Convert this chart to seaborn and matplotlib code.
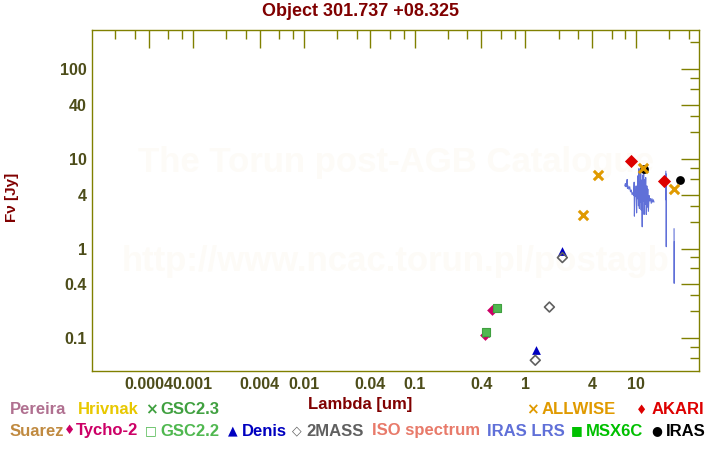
import numpy as np
import pandas as pd
import matplotlib
matplotlib.use('Agg')
import matplotlib.pyplot as plt
import seaborn as sns

# photometry (wavelength um, flux Jy)
tycho_wave = [0.433, 0.504]
tycho_flux = [0.110, 0.205]
gsc22_wave = [0.442, 0.552]
gsc22_flux = [0.1175, 0.220]
gsc23_wave = [0.442, 0.552]
gsc23_flux = [0.116, 0.218]
denis_wave = [1.25, 2.16]
denis_flux = [0.0748, 0.95]
mass2_wave = [1.23, 1.65, 2.16]
mass2_flux = [0.0569, 0.223, 0.794]
allwise_wave = [3.34, 4.56, 11.6, 22.1]
allwise_flux = [2.39, 6.68, 8.0, 4.67]
akari_wave = [9.0, 17.97]
akari_flux = [9.6, 5.63]
iras_wave = [11.8, 25.1]
iras_flux = [7.8, 5.77]

# IRAS LRS spectrum, three pieces
lrs_wave = [7.90, 8.00, 8.10, 8.20, 8.30, 8.35, 8.45, 8.60, 8.75, 8.90, 9.05, 9.20,
            9.35, 9.50, 9.60, 9.65, 9.75, 9.90, 10.00, 10.10, 10.20, 10.30, 10.40,
            10.50, 10.60, 10.70, 10.80, 10.90, 11.00, 11.10, 11.20, 11.35, 11.45,
            11.55, 11.70, 11.80, 11.95, 12.05, 12.20, 12.35, 12.50, 12.60, 12.75,
            12.90, 13.10, 13.30, 13.50, 13.70, 13.90, 14.10, 14.30, 14.50,
            18.55, 18.60, 18.65, 18.70, 18.75,
            22.00, 22.05, 22.10]
lrs_flux = [5.0, 5.3, 4.9, 5.2, 5.9, 4.7, 5.0, 4.6, 4.9, 4.3, 4.5, 4.0,
            4.2, 3.9, 5.5, 2.3, 4.4, 3.8, 5.0, 2.5, 4.6, 3.6, 6.5,
            3.0, 7.8, 2.8, 5.6, 3.3, 6.9, 2.7, 5.8, 1.75, 6.6,
            3.4, 7.0, 2.4, 5.9, 3.1, 6.2, 2.4, 5.0, 2.9, 4.6,
            2.6, 3.9, 3.4, 3.6, 3.2, 3.6, 3.3, 3.5, 3.3,
            7.3, 3.5, 6.8, 1.05, 3.6,
            1.67, 0.41, 1.2]
lrs_seg = [0] * 52 + [1] * 5 + [2] * 3

x_major = [0.0004, 0.001, 0.004, 0.01, 0.04, 0.1, 0.4, 1, 4, 10]
x_major_labels = ['0.0004', '0.001', '0.004', '0.01', '0.04', '0.1', '0.4', '1', '4', '10']
y_major = [0.1, 0.4, 1, 4, 10, 40, 100]
y_major_labels = ['0.1', '0.4', '1', '4', '10', '40', '100']

sns.set_style('white')
plt.rcParams['font.family'] = ['Liberation Sans', 'DejaVu Sans']
plt.rcParams['font.weight'] = 'bold'

olive = '#808000'
tick_col = '#4d4d1a'
dark_red = '#800000'

fig = plt.figure(figsize=(7.2, 4.5), dpi=100)
ax = fig.add_axes([0.1282, 0.1756, 0.8431, 0.7578])

# watermark
ax.text(0.5, 0.61, 'The Torun post-AGB Catalogue', transform=ax.transAxes, ha='center',
        va='center', fontsize=25, fontweight='bold', color='#fdfbf7', zorder=0)
ax.text(0.5, 0.32, 'http://www.ncac.torun.pl/postagb', transform=ax.transAxes, ha='center',
        va='center', fontsize=25, fontweight='bold', color='#fdfbf7', zorder=0)

lrs = pd.DataFrame({'wave': lrs_wave, 'flux': lrs_flux, 'seg': lrs_seg})
sns.lineplot(data=lrs, x='wave', y='flux', units='seg', estimator=None, sort=False,
             color='#6070d8', linewidth=0.8, ax=ax, zorder=2)

sns.scatterplot(x=tycho_wave, y=tycho_flux, marker='D', s=30, color='#cc0066', linewidth=0, ax=ax, zorder=3)
sns.scatterplot(x=gsc23_wave, y=gsc23_flux, marker='x', s=30, color='#40a040', linewidth=1.5, ax=ax, zorder=3)
sns.scatterplot(x=gsc22_wave, y=gsc22_flux, marker='s', s=40, color='#50b850', edgecolor='#40a040',
                linewidth=0.8, ax=ax, zorder=4)
sns.scatterplot(x=denis_wave, y=denis_flux, marker='^', s=40, color='#0000c0', linewidth=0, ax=ax, zorder=4)
sns.scatterplot(x=mass2_wave, y=mass2_flux, marker='D', s=25, facecolor='none', edgecolor='#606060',
                linewidth=1.2, ax=ax, zorder=4)
sns.scatterplot(x=akari_wave, y=akari_flux, marker='D', s=45, color='#dd0000', linewidth=0, ax=ax, zorder=4)
sns.scatterplot(x=iras_wave, y=iras_flux, marker='o', s=40, color='black', linewidth=0, ax=ax, zorder=4)
sns.scatterplot(x=allwise_wave, y=allwise_flux, marker='x', s=45, color='#e09a00', linewidth=2.2, ax=ax, zorder=5)

ax.set_xscale('log')
ax.set_yscale('log')

ax.set_xticks(x_major)
ax.set_xticklabels(x_major_labels)
ax.set_yticks(y_major)
ax.set_yticklabels(y_major_labels)
x_minor = [m * 10.0 ** d for d in range(-4, 2) for m in (2, 3, 6, 8)]
y_minor = [m * 10.0 ** d for d in range(-2, 3) for m in (2, 3, 6, 8)]
ax.set_xticks(x_minor, minor=True)
ax.set_yticks(y_minor, minor=True)
ax.set_xticklabels([], minor=True)
ax.set_yticklabels([], minor=True)
ax.set_xlim(1.236e-4, 37.2)
ax.set_ylim(0.0432, 274)

ax.tick_params(which='both', direction='in', top=True, right=True, color=olive, width=1)
ax.tick_params(which='major', length=13, labelsize=11.5, labelcolor=tick_col, pad=4)
ax.tick_params(which='minor', length=6.5)
for lab in ax.get_xticklabels() + ax.get_yticklabels():
    lab.set_fontweight('bold')
for sp in ax.spines.values():
    sp.set_color(olive)
    sp.set_linewidth(1)
ax.set_xlabel('')
ax.set_ylabel('')

fig.text(0.5, 1 - 12 / 450, 'Object 301.737 +08.325', ha='center', va='center',
         fontsize=13, fontweight='bold', color=dark_red)
fig.text(12 / 720, 1 - 197 / 450, 'F\u03bd [Jy]', rotation=90, ha='center', va='center',
         fontsize=11, fontweight='bold', color=dark_red)
fig.text(0.5, 1 - 405 / 450, 'Lambda [um]', ha='center', va='center',
         fontsize=12, fontweight='bold', color=dark_red)

# legend rows: (symbol, label, colour, symbol size, x of symbol, x of text, row y)
legend_items = [
    ('', 'Pereira', '#b07090', 9, 0, 10, 410),
    ('', 'Hrivnak', '#e8c800', 9, 0, 78, 410),
    ('\u00d7', 'GSC2.3', '#40a040', 11, 151, 160, 410),
    ('\u00d7', 'ALLWISE', '#e09a00', 11, 532, 542, 410),
    ('\u2666', 'AKARI', '#dd0000', 9, 642, 652, 410),
    ('', 'Suarez', '#c08a40', 9, 0, 10, 431),
    ('\u2666', 'Tycho-2', '#cc0066', 9, 70, 76, 431),
    ('\u25a1', 'GSC2.2', '#50b850', 9, 151, 160, 431),
    ('\u25b2', 'Denis', '#0000c0', 9, 233, 242, 431),
    ('\u25c7', '2MASS', '#606060', 9, 297, 306, 431),
    ('', 'ISO spectrum', '#e87a6a', 9, 0, 372, 431),
    ('', 'IRAS LRS', '#6070d8', 9, 0, 487, 431),
    ('\u25a0', 'MSX6C', '#00c000', 9, 577, 586, 431),
    ('\u25cf', 'IRAS', '#000000', 9, 657, 666, 431),
]
for sym, lab, col, ssize, xs, xt, yy in legend_items:
    if sym:
        fig.text(xs / 720, 1 - yy / 450, sym, ha='center', va='center', fontsize=ssize,
                 fontweight='bold', color=col, family=['DejaVu Sans'])
    fig.text(xt / 720, 1 - yy / 450, lab, ha='left', va='center', fontsize=12,
             fontweight='bold', color=col)

fig.savefig('out.png', dpi=100)
